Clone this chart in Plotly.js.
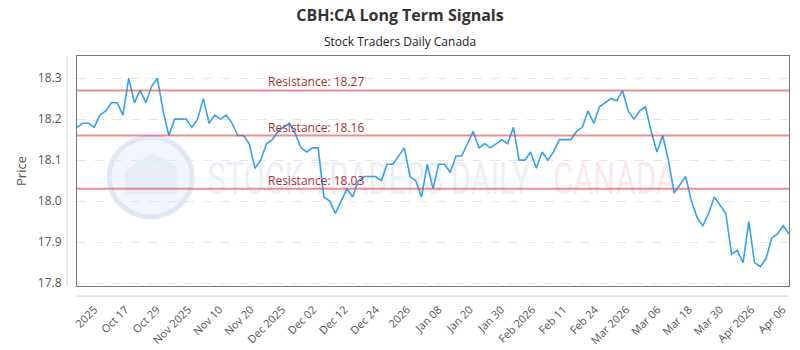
<!DOCTYPE html>
<html>
<head>
<meta charset="utf-8">
<script src="https://cdn.plot.ly/plotly-3.0.1.min.js"></script>
<style>html,body{margin:0;padding:0;background:#fff;}#chart{width:800px;height:350px;}</style>
</head>
<body>
<div id="chart"></div>
<script>
// Closing prices (one per trading session)
const prices = [
  18.18, 18.19, 18.19, 18.18, 18.21, 18.22, 18.24, 18.24, 18.21, 18.30,
  18.24, 18.27, 18.24, 18.28, 18.30, 18.22, 18.16, 18.20, 18.20, 18.20,
  18.18, 18.20, 18.25, 18.19, 18.21, 18.20, 18.21, 18.19, 18.16, 18.16,
  18.14, 18.08, 18.10, 18.14, 18.15, 18.17, 18.18, 18.19, 18.165, 18.13,
  18.12, 18.13, 18.13, 18.01, 18.00, 17.97, 18.00, 18.03, 18.01, 18.05,
  18.06, 18.06, 18.06, 18.05, 18.09, 18.09, 18.11, 18.13, 18.06, 18.05,
  18.01, 18.09, 18.03, 18.09, 18.09, 18.07, 18.11, 18.11, 18.14, 18.17,
  18.13, 18.14, 18.13, 18.14, 18.15, 18.14, 18.18, 18.10, 18.10, 18.12,
  18.08, 18.12, 18.10, 18.12, 18.15, 18.15, 18.15, 18.17, 18.18, 18.22,
  18.19, 18.23, 18.24, 18.25, 18.245, 18.27, 18.22, 18.20, 18.22, 18.23,
  18.17, 18.12, 18.16, 18.10, 18.02, 18.04, 18.06, 18.00, 17.96, 17.94,
  17.97, 18.01, 17.99, 17.97, 17.87, 17.88, 17.85, 17.95, 17.85, 17.84,
  17.86, 17.91, 17.92, 17.94, 17.92
];
const sessions = prices.map((_, i) => i);

// Resistance levels
const resistanceLevels = [18.27, 18.16, 18.03];

// X tick labels and the session positions where they sit
const tickLabels = ["2025", "Oct 17", "Oct 29", "Nov 2025", "Nov 10", "Nov 20", "Dec 2025", "Dec 02",
  "Dec 12", "Dec 24", "2026", "Jan 08", "Jan 20", "Jan 30", "Feb 2026", "Feb 11", "Feb 24",
  "Mar 2026", "Mar 06", "Mar 18", "Mar 30", "Apr 2026", "Apr 06"];
const tickPositions = [3.0, 8.45, 13.9, 19.35, 24.8, 30.25, 35.7, 41.15, 46.6, 52.05, 57.5, 62.95,
  68.4, 73.85, 79.3, 84.75, 90.2, 95.65, 101.1, 106.55, 112.0, 117.45, 122.9];

const yTicks = [17.8, 17.9, 18.0, 18.1, 18.2, 18.3];

const traces = [{
  x: sessions,
  y: prices,
  type: 'scatter',
  mode: 'lines',
  line: {color: '#36a2eb', width: 1.6},
  hoverinfo: 'skip'
}];

const shapes = [];
const annotations = [];

// watermark (drawn below the data)
shapes.push({
  type: 'circle', xref: 'paper', yref: 'paper', layer: 'below',
  x0: 0.045, x1: 0.162, y0: 0.30, y1: 0.648,
  fillcolor: 'rgba(226,233,246,0.45)', line: {color: 'rgba(214,224,242,0.7)', width: 5}
});
shapes.push({
  type: 'path', xref: 'paper', yref: 'paper', layer: 'below',
  path: 'M 0.068 0.40 L 0.068 0.50 L 0.105 0.58 L 0.14 0.52 L 0.14 0.40 Z',
  fillcolor: 'rgba(222,230,244,0.55)', line: {width: 0}
});
shapes.push({
  type: 'rect', xref: 'paper', yref: 'paper', layer: 'below',
  x0: 0.18, x1: 0.64, y0: 0.38, y1: 0.58,
  line: {width: 0}, fillcolor: 'rgba(0,0,0,0)',
  label: {text: 'STOCK TRADERS DAILY', textposition: 'middle center',
    font: {family: 'Roboto', size: 44, color: 'rgba(200,210,226,0.35)'}}
});
shapes.push({
  type: 'rect', xref: 'paper', yref: 'paper', layer: 'below',
  x0: 0.6685, x1: 0.8415, y0: 0.38, y1: 0.58,
  line: {width: 0}, fillcolor: 'rgba(0,0,0,0)',
  label: {text: 'CANADA', textposition: 'middle center',
    font: {family: 'Roboto', size: 44, color: 'rgba(240,150,150,0.22)'}}
});

// outer light axis lines
shapes.push({type: 'line', xref: 'paper', yref: 'paper', x0: -0.014, x1: -0.014, y0: 0, y1: 1,
  line: {color: '#d0d0d0', width: 1}});
shapes.push({type: 'line', xref: 'paper', yref: 'paper', x0: 0, x1: 1, y0: -0.044, y1: -0.044,
  line: {color: '#d0d0d0', width: 1}});

resistanceLevels.forEach(function (lv) {
  shapes.push({
    type: 'line', xref: 'paper', yref: 'y', x0: 0, x1: 1, y0: lv, y1: lv,
    line: {color: 'rgba(220,70,70,0.6)', width: 2}
  });
  annotations.push({
    xref: 'paper', yref: 'y', x: 0.266, y: lv, xanchor: 'left', yanchor: 'bottom',
    text: 'Resistance: ' + lv.toFixed(2), showarrow: false, yshift: -2,
    font: {family: 'Open Sans, Roboto', size: 12, color: '#a83232'}
  });
});

annotations.push({
  xref: 'paper', yref: 'paper', x: 0.4537, y: 1.0, yshift: 15, xanchor: 'center', yanchor: 'middle',
  text: 'Stock Traders Daily Canada', showarrow: false,
  font: {family: 'Open Sans, Roboto', size: 12, color: '#222'}
});

const layout = {
  width: 800, height: 350, autosize: false,
  margin: {l: 77, r: 11, t: 56, b: 64},
  paper_bgcolor: '#ffffff', plot_bgcolor: '#ffffff',
  showlegend: false,
  title: {text: '<b>CBH:CA Long Term Signals</b>', x: 0.5, xref: 'container', y: 0.955, yref: 'container',
    yanchor: 'middle', font: {family: 'Open Sans, Roboto', size: 16, color: '#333'}},
  xaxis: {
    range: [0, prices.length - 1],
    tickmode: 'array', tickvals: tickPositions, ticktext: tickLabels,
    tickangle: -45, ticks: 'outside', ticklen: 12, tickcolor: 'rgba(0,0,0,0)',
    tickfont: {family: 'Open Sans, Roboto', size: 11, color: '#555'},
    showgrid: false, zeroline: false,
    showline: true, mirror: true, linecolor: '#777', linewidth: 1
  },
  yaxis: {
    range: [17.793, 18.354],
    tickmode: 'array', tickvals: yTicks, ticktext: yTicks.map(v => v.toFixed(1)),
    ticks: 'outside', ticklen: 12, tickcolor: 'rgba(0,0,0,0)',
    tickfont: {family: 'Open Sans, Roboto', size: 12, color: '#555'},
    showgrid: true, gridcolor: '#e6e6e6', griddash: 'dash', gridwidth: 1,
    zeroline: false,
    showline: true, mirror: true, linecolor: '#777', linewidth: 1,
    title: {text: 'Price', standoff: 8, font: {family: 'Open Sans, Roboto', size: 13, color: '#555'}}
  },
  shapes: shapes,
  annotations: annotations
};

Plotly.newPlot('chart', traces, layout, {displayModeBar: false, staticPlot: true}).then(function (gd) {
  // squeeze the watermark words to the narrow width they have in the reference
  const widths = {'STOCK TRADERS DAILY': 323, 'CANADA': 123};
  gd.querySelectorAll('text').forEach(function (t) {
    const w = widths[t.textContent];
    if (w) {
      t.setAttribute('textLength', w);
      t.setAttribute('lengthAdjust', 'spacingAndGlyphs');
    }
  });
});
</script>
</body>
</html>
